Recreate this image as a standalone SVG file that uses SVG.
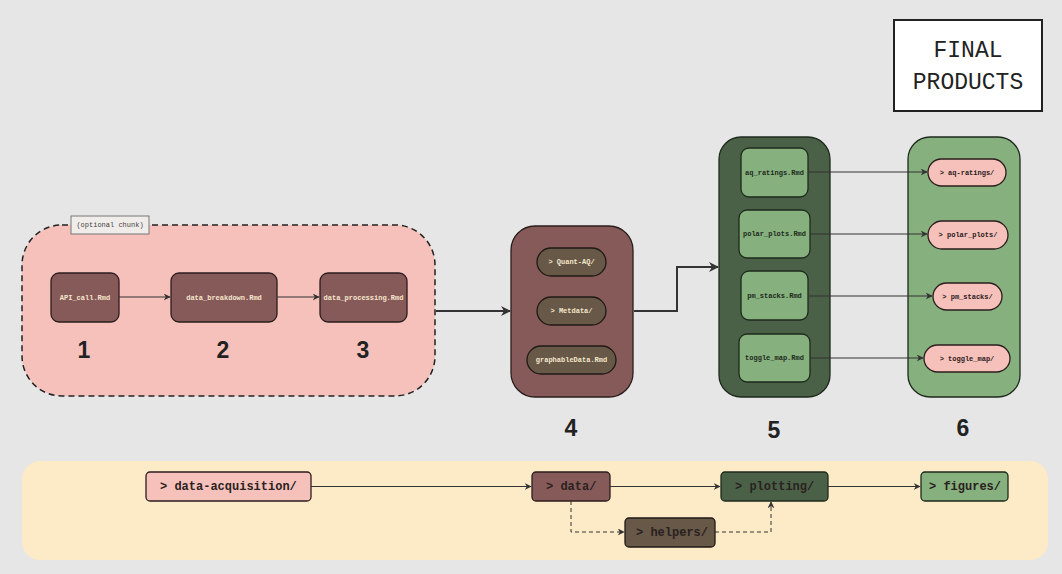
<svg xmlns="http://www.w3.org/2000/svg" width="1062" height="574" viewBox="0 0 1062 574">
<defs>
<marker id="ah" viewBox="0 0 10 10" refX="9" refY="5" markerWidth="7" markerHeight="7" markerUnits="userSpaceOnUse" orient="auto"><path d="M0,0 L10,5 L0,10 L3,5 Z" fill="#333"/></marker>
<marker id="ahb" viewBox="0 0 10 10" refX="9" refY="5" markerWidth="10" markerHeight="10" markerUnits="userSpaceOnUse" orient="auto"><path d="M0,0 L10,5 L0,10 L3,5 Z" fill="#333"/></marker>
<style>
.mono{font-family:"Liberation Mono","DejaVu Sans Mono",monospace;}
.sm{font-size:7px;font-weight:bold;text-anchor:middle;dominant-baseline:central;}
.lt{fill:#f6e7cc;}
.dk{fill:#1e2a1c;}
.num{font-family:"Liberation Sans",Arial,sans-serif;font-size:23px;font-weight:bold;fill:#222;text-anchor:middle;}
.leg{font-size:12px;font-weight:bold;fill:#2a2220;dominant-baseline:central;}
.rose{fill:#875a5a;stroke:#2b1d1d;stroke-width:1.3;}
.pink{fill:#f6c1bb;stroke:#2b1d1d;stroke-width:1.3;}
.dgreen{fill:#4a6147;stroke:#1e2a1c;stroke-width:1.3;}
.lgreen{fill:#86b07e;stroke:#1e2a1c;stroke-width:1.3;}
.brown{fill:#675848;stroke:#1f1a14;stroke-width:1.3;}
.c{fill:none;stroke:#333;stroke-width:1;}
.cb{fill:none;stroke:#333;stroke-width:2;}
.cd{fill:none;stroke:#333;stroke-width:1;stroke-dasharray:4 3;}
</style>
</defs>
<rect x="0" y="0" width="1062" height="574" fill="#e6e6e6"/>

<g id="chunk">
<rect x="22" y="225" width="413" height="171" rx="40" fill="#f6c1bb" stroke="#222" stroke-width="1.5" stroke-dasharray="6 4"/>
<rect x="71" y="216" width="78" height="18" fill="#f0ecea" stroke="#777" stroke-width="1"/>
<text x="110" y="225" class="mono" font-size="7" fill="#444" text-anchor="middle" dominant-baseline="central">(optional chunk)</text>
</g>
<g id="n1"><rect x="51" y="273" width="68" height="49" rx="8" class="rose"/><text x="85" y="297.5" class="mono sm lt">API_call.Rmd</text><text x="84" y="358" class="num">1</text></g>
<g id="n2"><rect x="171" y="273" width="106" height="49" rx="8" class="rose"/><text x="224" y="297.5" class="mono sm lt">data_breakdown.Rmd</text><text x="223" y="358" class="num">2</text></g>
<g id="n3"><rect x="320" y="273" width="87" height="49" rx="8" class="rose"/><text x="363.5" y="297.5" class="mono sm lt">data_processing.Rmd</text><text x="363" y="358" class="num">3</text></g>

<g id="n4">
<rect x="511" y="226" width="122" height="171" rx="24" class="rose" stroke-width="1.5"/>
<rect x="537" y="248" width="69" height="28" rx="14" class="brown"/><text x="571.5" y="262" class="mono sm lt">&gt; Quant-AQ/</text>
<rect x="537" y="297" width="69" height="28" rx="14" class="brown"/><text x="571.5" y="311" class="mono sm lt">&gt; Metdata/</text>
<rect x="527" y="346" width="89" height="28" rx="14" class="brown"/><text x="571.5" y="360" class="mono sm lt">graphableData.Rmd</text>
<text x="571" y="436" class="num">4</text>
</g>

<g id="n5">
<rect x="719" y="137" width="111" height="260" rx="22" class="dgreen" stroke-width="1.5"/>
<rect x="741" y="148" width="67" height="49" rx="8" class="lgreen"/><text x="774.5" y="172.5" class="mono sm dk">aq_ratings.Rmd</text>
<rect x="739" y="210" width="71" height="48" rx="8" class="lgreen"/><text x="774.5" y="234" class="mono sm dk">polar_plots.Rmd</text>
<rect x="741" y="271" width="67" height="49" rx="8" class="lgreen"/><text x="774.5" y="295.5" class="mono sm dk">pm_stacks.Rmd</text>
<rect x="739" y="334" width="71" height="48" rx="8" class="lgreen"/><text x="774.5" y="358" class="mono sm dk">toggle_map.Rmd</text>
<text x="774" y="438" class="num">5</text>
</g>

<g id="n6">
<rect x="908" y="137" width="112" height="260" rx="22" class="lgreen" stroke-width="1.5"/>
<rect x="928" y="159" width="78" height="27" rx="13.5" class="pink"/><text x="967" y="172.5" class="mono sm" fill="#2a1a1a">&gt; aq-ratings/</text>
<rect x="928" y="221" width="80" height="28" rx="14" class="pink"/><text x="968" y="235" class="mono sm" fill="#2a1a1a">&gt; polar_plots/</text>
<rect x="933" y="283" width="69" height="27" rx="13.5" class="pink"/><text x="967.5" y="296.5" class="mono sm" fill="#2a1a1a">&gt; pm_stacks/</text>
<rect x="924" y="345" width="86" height="27" rx="13.5" class="pink"/><text x="967" y="358.5" class="mono sm" fill="#2a1a1a">&gt; toggle_map/</text>
<text x="963" y="436" class="num">6</text>
</g>

<g id="final">
<rect x="894" y="20" width="148" height="91" fill="#ffffff" stroke="#222" stroke-width="2"/>
<text x="968" y="51" class="mono" font-size="23" fill="#222" text-anchor="middle" dominant-baseline="central">FINAL</text>
<text x="968" y="83" class="mono" font-size="23" fill="#222" text-anchor="middle" dominant-baseline="central">PRODUCTS</text>
</g>

<g id="legend">
<rect x="22" y="461" width="1026" height="99" rx="18" fill="#fdeac7"/>
<g id="l-acq"><rect x="146" y="472" width="165" height="29" rx="4" class="pink"/><text x="160" y="487" class="mono leg">&gt; data-acquisition/</text></g>
<g id="l-data"><rect x="532" y="472" width="78" height="29" rx="4" class="rose"/><text x="546" y="487" class="mono leg">&gt; data/</text></g>
<g id="l-plot"><rect x="721" y="472" width="107" height="29" rx="4" class="dgreen"/><text x="735" y="487" class="mono leg" fill="#1a2318">&gt; plotting/</text></g>
<g id="l-fig"><rect x="921" y="472" width="87" height="29" rx="4" class="lgreen"/><text x="929" y="487" class="mono leg">&gt; figures/</text></g>
<g id="l-help"><rect x="625" y="518" width="90" height="29" rx="4" class="brown"/><text x="636" y="533" class="mono leg">&gt; helpers/</text></g>
</g>

<g id="connectors">
<path d="M119,297 H170" class="c" marker-end="url(#ah)"/>
<path d="M277,297 H319" class="c" marker-end="url(#ah)"/>
<path d="M436,311 H510" class="cb" marker-end="url(#ahb)"/>
<path d="M634,311 H677 V267 H718" class="cb" marker-end="url(#ahb)"/>
<path d="M808,172 H927" class="c" marker-end="url(#ah)"/>
<path d="M810,234 H927" class="c" marker-end="url(#ah)"/>
<path d="M808,296 H932" class="c" marker-end="url(#ah)"/>
<path d="M810,358 H923" class="c" marker-end="url(#ah)"/>
<path d="M311,486.5 H531" class="c" marker-end="url(#ah)"/>
<path d="M610,486.5 H720" class="c" marker-end="url(#ah)"/>
<path d="M828,486.5 H920" class="c" marker-end="url(#ah)"/>
<path d="M571,501 V532 H624" class="cd" marker-end="url(#ah)"/>
<path d="M715,532 H771 V502" class="cd" marker-end="url(#ah)"/>
</g>
</svg>
